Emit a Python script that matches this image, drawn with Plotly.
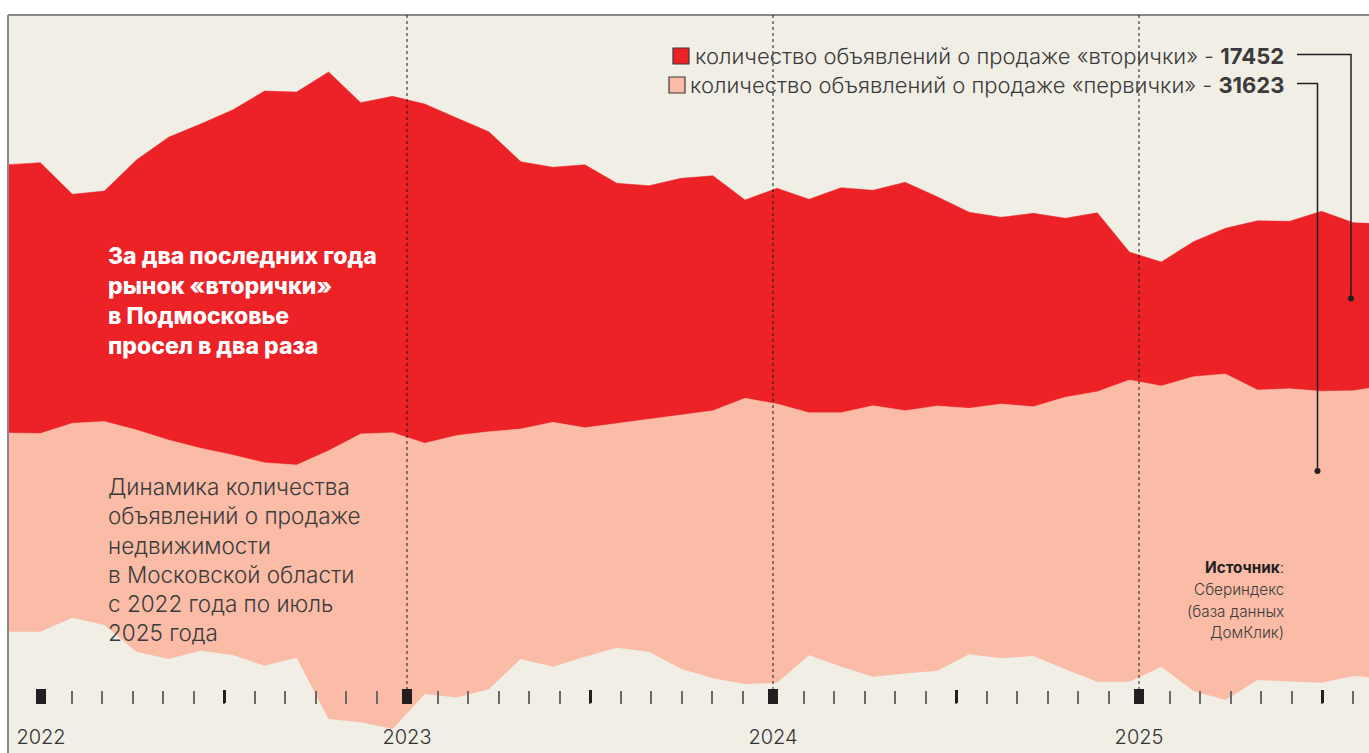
import pandas as pd
import plotly.graph_objects as go

# ---------------- data (monthly, Dec 2021 .. Jul 2025) ----------------
months = [d.strftime("%Y-%m") for d in pd.date_range("2021-12-01", periods=44, freq="MS")]
# stream offset (lower edge of the stream)
baseline = [13100, 13100, 14610, 13820, 10940, 10150, 11050, 10580, 9430, 10290,
            3670, 3320, 2590, 6370, 5990, 6880, 10150, 9320, 10400, 11370,
            10940, 9100, 8070, 7450, 7590, 10550, 9320, 8240, 8590, 8890,
            10660, 10230, 10480, 9040, 7700, 7700, 9320, 6700, 5720, 7880,
            7720, 7590, 8320, 8050]
# primary market ("первичка") listings
primary = [21460, 21410, 21000, 21980, 23940, 23650, 21860, 21600, 21920, 20810,
           28980, 31140, 32000, 27080, 28300, 27820, 24840, 26400, 24730, 24240,
           25100, 27400, 28900, 30860, 30100, 26200, 27430, 29270, 28380, 28590,
           26570, 27460, 26920, 29380, 31320, 32580, 30320, 33940, 35210, 31320,
           31620, 31470, 30810, 31623]
# secondary market ("вторичка") listings
secondary = [28980, 29250, 24730, 24890, 29160, 32690, 35020, 37260, 40140, 40280,
             40900, 35780, 36330, 36640, 34290, 32400, 28870, 27540, 28400, 25920,
             25230, 25560, 25380, 21420, 23300, 23050, 24300, 23260, 24670, 22600,
             21170, 20160, 20890, 19330, 19330, 13820, 13390, 14580, 15740, 18280,
             18080, 19440, 18140, 17452]

year_labels = ["2022", "2023", "2024", "2025"]
year_ticks = [0, 12, 24, 36]            # months since Jan 2022
midyear_ticks = [6, 18, 30, 42]
month_ticks = list(range(0, 44))

# ---------------- styling ----------------
SW, SH = 1369, 753           # figure / screen size
L, T = 8, 15                 # plot area origin
PW, PH = SW - L, SH - T
BG = "#F1EEE6"
RED = "#EC2227"
PINK = "#FABCA7"
TXT = "#3b3b3b"
DARK = "#231F20"
FONT = "Inter, 'Open Sans', sans-serif"


def px(x):
    return (x - L) / PW


def py(y):
    return (SH - y) / PH


xi = list(range(len(months)))

fig = go.Figure()
fig.add_trace(go.Scatter(x=xi, y=baseline, stackgroup="s", mode="lines",
                         line=dict(width=0, color="rgba(0,0,0,0)"),
                         fillcolor="rgba(0,0,0,0)", hoverinfo="skip", showlegend=False))
fig.add_trace(go.Scatter(x=xi, y=primary, stackgroup="s", mode="lines",
                         line=dict(width=0.5, color=PINK), fillcolor=PINK,
                         text=months, name="первичка", showlegend=False))
fig.add_trace(go.Scatter(x=xi, y=secondary, stackgroup="s", mode="lines",
                         line=dict(width=0.5, color=RED), fillcolor=RED,
                         text=months, name="вторичка", showlegend=False))

k = 108.0  # listings per pixel
fig.update_layout(
    width=SW, height=SH,
    margin=dict(l=L, r=0, t=T, b=0, pad=0),
    paper_bgcolor="white", plot_bgcolor=BG,
    showlegend=False,
    font=dict(family=FONT, color=TXT),
    xaxis=dict(range=[-0.01, (SW - 8.3) / 32.03], visible=False, fixedrange=True),
    yaxis=dict(range=[0, PH * k], visible=False, fixedrange=True),
    xaxis2=dict(overlaying="x", anchor="free", position=py(704), side="bottom",
                range=[(L - 41) / 30.5, (SW - 41) / 30.5],
                tickvals=year_ticks, ticktext=year_labels,
                ticks="inside", ticklen=15, tickwidth=10, tickcolor=DARK,
                tickfont=dict(family=FONT, size=20, color="#333333", weight=300),
                ticklabelstandoff=19,
                minor=dict(tickvals=month_ticks, ticks="inside", ticklen=13,
                           tickwidth=1.5, tickcolor="#6a6a6a"),
                showgrid=False, showline=False, zeroline=False, fixedrange=True),
    xaxis3=dict(overlaying="x", anchor="free", position=py(703), side="bottom",
                range=[(L - 41) / 30.5, (SW - 41) / 30.5],
                tickvals=midyear_ticks, showticklabels=False,
                ticks="inside", ticklen=13, tickwidth=3, tickcolor=DARK,
                showgrid=False, showline=False, zeroline=False, fixedrange=True),
)
# dummy traces so overlay axes render
fig.add_trace(go.Scatter(x=[None], y=[None], xaxis="x2", showlegend=False, hoverinfo="skip"))
fig.add_trace(go.Scatter(x=[None], y=[None], xaxis="x3", showlegend=False, hoverinfo="skip"))

shapes = []
# frame lines (top and left)
shapes.append(dict(type="line", xref="paper", yref="paper", x0=0, x1=1, y0=1, y1=1,
                   line=dict(color="#8a8886", width=2), layer="above"))
shapes.append(dict(type="line", xref="paper", yref="paper", x0=0, x1=0, y0=0, y1=1,
                   line=dict(color="#8a8886", width=2), layer="above"))
# dotted year separators
for v in year_ticks[1:]:
    shapes.append(dict(type="line", xref="x2", yref="paper", x0=v, x1=v,
                       y0=py(690), y1=1, line=dict(color="#1a1a1a", width=1, dash="dot"),
                       layer="above"))
# legend swatches
shapes.append(dict(type="rect", xref="paper", yref="paper",
                   x0=px(673), x1=px(689), y0=py(64), y1=py(48),
                   fillcolor=RED, line=dict(color="#3a3a3a", width=1.2), layer="above"))
shapes.append(dict(type="rect", xref="paper", yref="paper",
                   x0=px(669), x1=px(685), y0=py(93), y1=py(77),
                   fillcolor=PINK, line=dict(color="#3a3a3a", width=1.2), layer="above"))
# leader lines
shapes.append(dict(type="path", xref="paper", yref="paper",
                   path=f"M {px(1297)} {py(54.5)} L {px(1351)} {py(54.5)} L {px(1351)} {py(298)}",
                   line=dict(color=DARK, width=1.5), layer="above"))
shapes.append(dict(type="path", xref="paper", yref="paper",
                   path=f"M {px(1297)} {py(83.5)} L {px(1317.5)} {py(83.5)} L {px(1317.5)} {py(471)}",
                   line=dict(color=DARK, width=1.5), layer="above"))
for cx, cy in [(1351, 298.5), (1317.5, 471)]:
    shapes.append(dict(type="circle", xref="paper", yref="paper",
                       x0=px(cx - 3), x1=px(cx + 3), y0=py(cy + 3), y1=py(cy - 3),
                       fillcolor=DARK, line=dict(width=0), layer="above"))
fig.update_layout(shapes=shapes)

ann = []
ann.append(dict(xref="paper", yref="paper", x=px(1286), y=py(56), xanchor="right", yanchor="middle",
                text="количество объявлений о продаже «вторички» - <b>17452</b>", showarrow=False,
                font=dict(family=FONT, size=22, color=TXT, weight=300)))
ann.append(dict(xref="paper", yref="paper", x=px(1286), y=py(85), xanchor="right", yanchor="middle",
                text="количество объявлений о продаже «первички» - <b>31623</b>", showarrow=False,
                font=dict(family=FONT, size=22, color=TXT, weight=300)))
ann.append(dict(xref="paper", yref="paper", x=px(106), y=py(301), xanchor="left", yanchor="middle",
                align="left", showarrow=False,
                text="За два последних года<br>рынок «вторички»<br>в Подмосковье<br>просел в два раза",
                font=dict(family=FONT, size=23, color="white", weight=800)))
ann.append(dict(xref="paper", yref="paper", x=px(106), y=py(559), xanchor="left", yanchor="middle",
                align="left", showarrow=False,
                text="Динамика количества<br>объявлений о продаже<br>недвижимости<br>"
                     "в Московской области<br>с 2022 года по июль<br>2025 года",
                font=dict(family=FONT, size=22.5, color=TXT, weight=300)))
src = [("<b>Источник</b>:", 567), ("Сбериндекс", 589), ("(база данных", 611), ("ДомКлик)", 632)]
for t, yy in src:
    ann.append(dict(xref="paper", yref="paper", x=px(1286), y=py(yy), xanchor="right", yanchor="middle",
                    text=t, showarrow=False,
                    font=dict(family=FONT, size=15.3, color=TXT if "Ист" not in t else DARK, weight=300)))
fig.update_layout(annotations=ann)

fig.write_html("out.html",
               config={"displayModeBar": False},
               post_script="document.body.style.margin='0';"
                           "document.documentElement.style.overflow='hidden';")
